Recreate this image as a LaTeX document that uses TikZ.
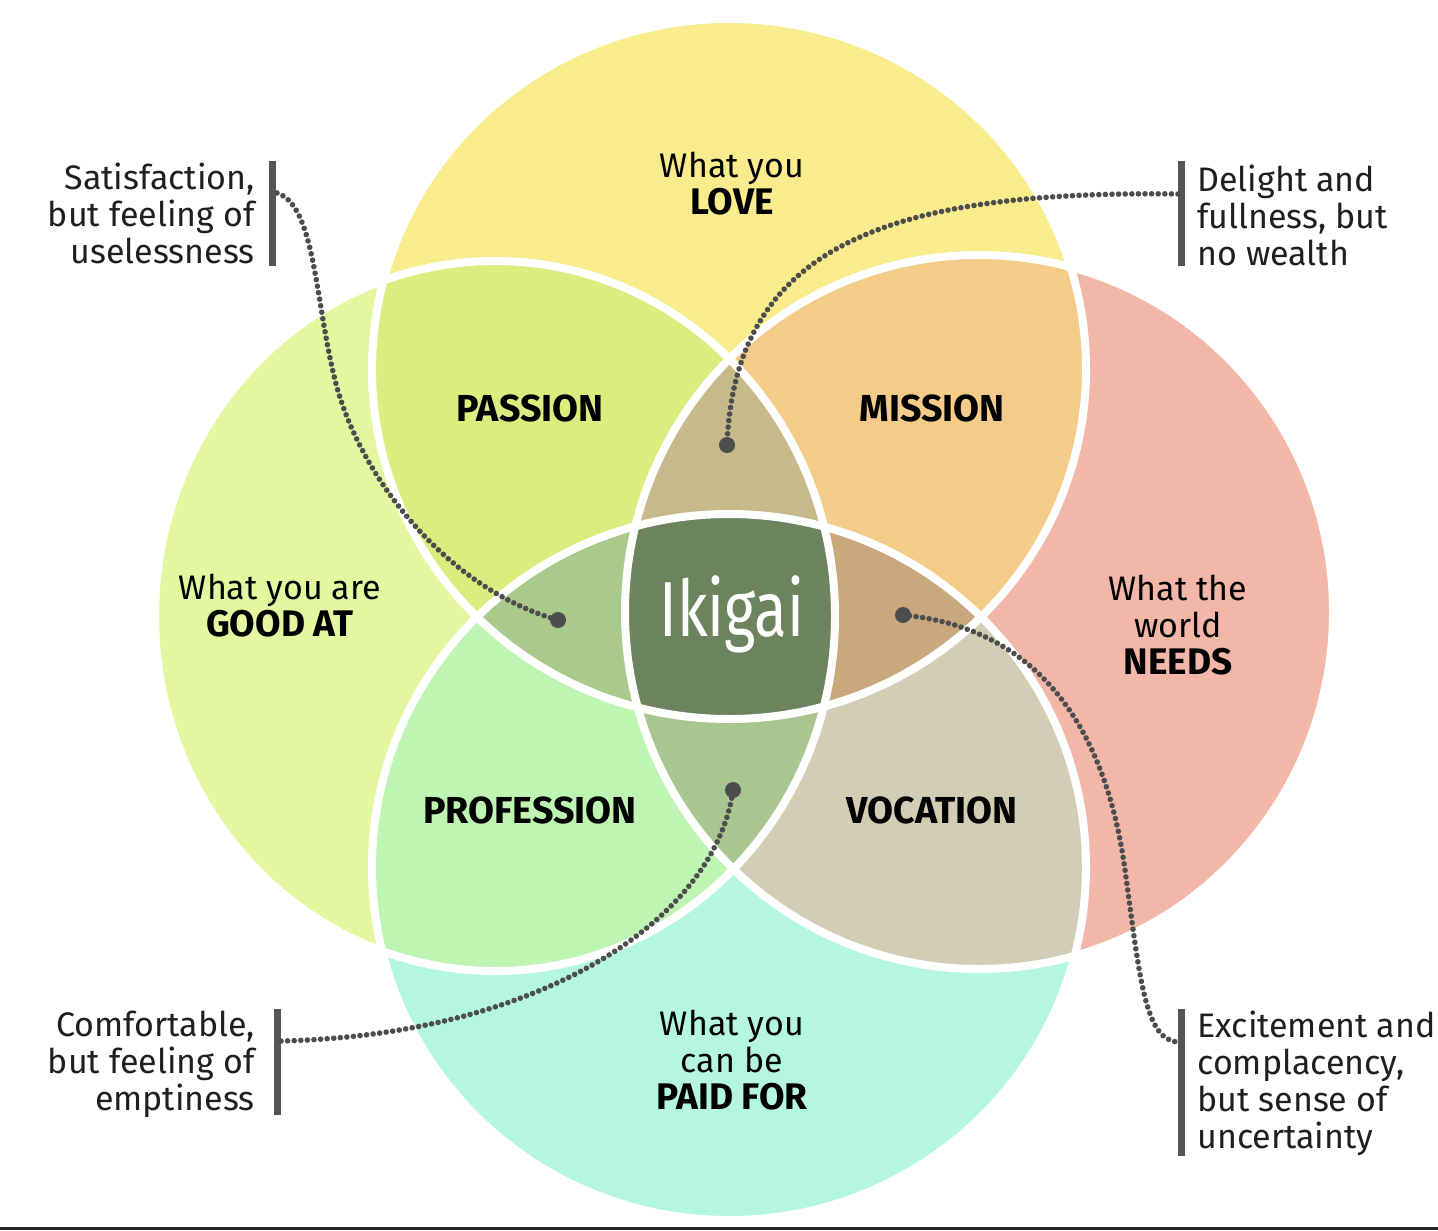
\documentclass[tikz,border=0pt]{standalone}
\usepackage{fontspec}
\setmainfont{Fira Sans}
\newfontfamily\ikifont[FakeStretch=0.77]{Fira Sans}
\definecolor{cTop}{HTML}{F8EC8C}
\definecolor{cLeft}{HTML}{E2F7A0}
\definecolor{cRight}{HTML}{F2B7A8}
\definecolor{cBot}{HTML}{B5F6E3}
\definecolor{cTL}{HTML}{DDEC7F}
\definecolor{cTR}{HTML}{F4CB88}
\definecolor{cLB}{HTML}{BEF5B2}
\definecolor{cRB}{HTML}{D4CDB6}
\definecolor{cTLR}{HTML}{C8B98B}
\definecolor{cTLB}{HTML}{A9CA8A}
\definecolor{cTRB}{HTML}{C9A87E}
\definecolor{cLRB}{HTML}{AAC690}
\definecolor{cIki}{HTML}{6C845E}
\definecolor{dotc}{HTML}{4D4D4D}
\definecolor{barc}{HTML}{555555}
\tikzset{
  body/.style={font=\fontsize{17}{18.5}\selectfont, align=center, text=black, inner sep=0pt},
  lbl/.style={font=\fontsize{18.8}{18.5}\selectfont\bfseries, text=black, inner sep=0pt},
  notel/.style={font=\fontsize{17}{18.5}\selectfont, align=right, anchor=east, text=black!88, inner sep=0pt},
  noter/.style={font=\fontsize{17}{18.5}\selectfont, align=left, anchor=west, text=black!88, inner sep=0pt},
  barline/.style={line width=3.5pt, draw=barc},
  conn/.style={draw=dotc, line width=2.8pt, line cap=round, dash pattern=on 0pt off 3.3pt},
  enddot/.style={circle, fill=dotc, inner sep=0pt, minimum size=8pt},
  ring/.style={draw=white, line width=4pt},
}
\newcommand\bigword[1]{{\fontsize{18.5}{18.5}\selectfont\bfseries #1}}
\def\CT{(729,369) ellipse[x radius=357, y radius=350]}
\def\CB{(729,867) ellipse[x radius=357, y radius=353]}
\def\CL{(495,616) ellipse[x radius=340, y radius=355]}
\def\CR{(979,612) ellipse[x radius=354, y radius=357]}
\begin{document}
\begin{tikzpicture}[x=0.5pt,y=-0.5pt]
\useasboundingbox (0,0) rectangle (1438,1230);
\fill[white] (0,0) rectangle (1438,1230);
% base circles
\fill[cTop] \CT;
\fill[cLeft] \CL;
\fill[cRight] \CR;
\fill[cBot] \CB;
% pairs
\begin{scope}\clip \CT; \fill[cTL] \CL; \end{scope}
\begin{scope}\clip \CT; \fill[cTR] \CR; \end{scope}
\begin{scope}\clip \CB; \fill[cLB] \CL; \end{scope}
\begin{scope}\clip \CB; \fill[cRB] \CR; \end{scope}
% triples
\begin{scope}\clip \CT; \clip \CL; \fill[cTLR] \CR; \end{scope}
\begin{scope}\clip \CT; \clip \CL; \fill[cTLB] \CB; \end{scope}
\begin{scope}\clip \CT; \clip \CR; \fill[cTRB] \CB; \end{scope}
\begin{scope}\clip \CL; \clip \CR; \fill[cLRB] \CB; \end{scope}
% all four
\begin{scope}\clip \CT; \clip \CL; \clip \CR; \fill[cIki] \CB; \end{scope}
% outlines
\draw[ring] \CT;
\draw[ring] \CL;
\draw[ring] \CR;
\draw[ring] \CB;
% circle texts
\node[body] (love) at (732,184) {What you\\\bigword{LOVE}};
\node[body] (good) at (280,606) {What you are\\\bigword{GOOD AT}};
\node[body] (needs) at (1178,625) {What the\\world\\\bigword{NEEDS}};
\node[body] (paid) at (732,1060) {What you\\can be\\\bigword{PAID FOR}};
\node[lbl] (passion) at (530,408) {PASSION};
\node[lbl] (mission) at (932,408) {MISSION};
\node[lbl] (profession) at (530,810) {PROFESSION};
\node[lbl] (vocation) at (932,810) {VOCATION};
\node[font=\ikifont\fontsize{39}{40}\selectfont, text=white, inner sep=0pt] (iki) at (732,614) {Ikigai};
% notes
\node[notel] (n1) at (255,213) {Satisfaction,\\but feeling of\\uselessness};
\node[noter] (n2) at (1197,215) {Delight and\\fullness, but\\no wealth};
\node[notel] (n3) at (255,1064) {Comfortable,\\but feeling of\\emptiness};
\node[noter] (n4) at (1197,1083) {Excitement and\\complacency,\\but sense of\\uncertainty};
% bars
\coordinate (b1t) at (272,161); \coordinate (b1b) at (272,266);
\coordinate (b2t) at (1181,161); \coordinate (b2b) at (1181,266);
\coordinate (b3t) at (277,1009); \coordinate (b3b) at (277,1115);
\coordinate (b4t) at (1181,1009); \coordinate (b4b) at (1181,1156);
\draw[barline] (b1t) -- (b1b);
\draw[barline] (b2t) -- (b2b);
\draw[barline] (b3t) -- (b3b);
\draw[barline] (b4t) -- (b4b);
% connector ends
\coordinate (s1) at (277,193);
\coordinate (s2) at (1178,194);
\coordinate (s3) at (281,1041);
\coordinate (s4) at (1178,1042);
\node[enddot] (d1) at (558,620) {};
\node[enddot] (d2) at (727,445) {};
\node[enddot] (d3) at (733,790) {};
\node[enddot] (d4) at (903,615) {};
\draw[conn] (s1) .. controls (315,205) and (315,300) .. (335,380) .. controls (360,480) and (450,590) .. (d1.center);
\draw[conn] (s2) .. controls (880,190) and (735,250) .. (d2.center);
\draw[conn] (s3) .. controls (540,1035) and (715,920) .. (d3.center);
\draw[conn] (d4.center) .. controls (1060,630) and (1110,760) .. (1125,870) .. controls (1140,980) and (1145,1040) .. (s4);
% bottom edge strip
\fill[black!85] (0,1227) rectangle (1438,1230);
\end{tikzpicture}
\end{document}
